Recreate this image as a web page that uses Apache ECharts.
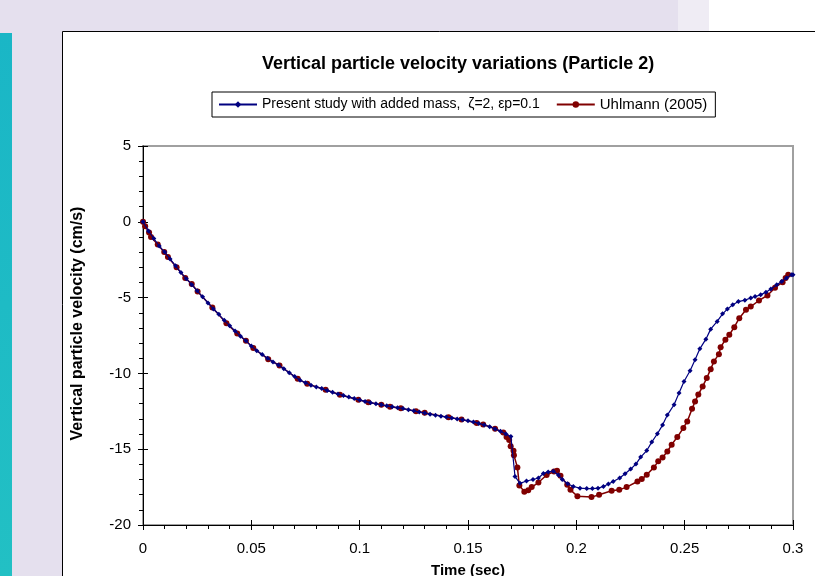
<!DOCTYPE html>
<html>
<head>
<meta charset="utf-8">
<script src="https://cdn.jsdelivr.net/npm/echarts@6/dist/echarts.min.js"></script>
<style>
html,body{margin:0;padding:0;background:#e5e0ee;}
#chart{width:815px;height:576px;}
</style>
</head>
<body>
<div id="chart"></div>
<script>
// ---- data ----
const titleText = 'Vertical particle velocity variations (Particle 2)';
const seriesNames = ['Present study with added mass,  ζ=2, εp=0.1', 'Uhlmann (2005)'];
const xTicks = [0, 0.05, 0.1, 0.15, 0.2, 0.25, 0.3];
const yTicks = [-20, -15, -10, -5, 0, 5];

const presentT = [0,0.0025,0.005,0.0075,0.01,0.0125,0.015,0.0175,0.02,0.0225,0.025,0.0275,0.03,0.0325,0.035,0.0375,0.04,0.0425,0.045,0.0475,0.05,0.0525,0.055,0.0575,0.06,0.0625,0.065,0.0675,0.07,0.0725,0.075,0.0775,0.08,0.0825,0.085,0.0875,0.09,0.0925,0.095,0.0975,0.1,0.1025,0.105,0.1075,0.11,0.1125,0.115,0.1175,0.12,0.1225,0.125,0.1275,0.13,0.1325,0.135,0.1375,0.14,0.1425,0.145,0.1475,0.15,0.1525,0.155,0.1575,0.16,0.1625,0.165,0.1675,0.1698,0.1717,0.174,0.177,0.18,0.1825,0.1848,0.187,0.1894,0.1917,0.1935,0.196,0.1986,0.2017,0.2048,0.2074,0.21,0.2125,0.2148,0.217,0.22,0.2225,0.2251,0.2275,0.2297,0.2325,0.2348,0.2374,0.2398,0.242,0.2451,0.2474,0.2497,0.2525,0.2548,0.257,0.2598,0.262,0.265,0.2675,0.2697,0.2722,0.2748,0.2778,0.2805,0.2825,0.2851,0.2875,0.2898,0.2925,0.2948,0.297,0.2994,0.3];
const presentV = [0,-0.6,-1.1,-1.6,-2.0,-2.45,-2.9,-3.35,-3.75,-4.15,-4.55,-4.95,-5.35,-5.75,-6.1,-6.5,-6.85,-7.2,-7.55,-7.85,-8.2,-8.5,-8.75,-9.0,-9.25,-9.45,-9.7,-9.95,-10.2,-10.45,-10.62,-10.78,-10.9,-11.0,-11.12,-11.25,-11.36,-11.46,-11.56,-11.66,-11.76,-11.85,-11.93,-12.0,-12.07,-12.14,-12.2,-12.26,-12.32,-12.4,-12.47,-12.55,-12.62,-12.7,-12.76,-12.82,-12.88,-12.94,-13.0,-13.06,-13.12,-13.2,-13.3,-13.4,-13.52,-13.66,-13.82,-14.0,-14.16,-16.8,-17.25,-17.1,-17.0,-16.9,-16.6,-16.5,-16.45,-16.7,-17.0,-17.28,-17.46,-17.57,-17.6,-17.6,-17.57,-17.46,-17.3,-17.13,-16.9,-16.62,-16.31,-15.98,-15.52,-15.09,-14.53,-13.98,-13.41,-12.75,-12.07,-11.3,-10.53,-9.83,-9.1,-8.38,-7.74,-7.08,-6.57,-6.07,-5.76,-5.47,-5.26,-5.17,-5.03,-4.93,-4.82,-4.64,-4.44,-4.16,-3.94,-3.71,-3.5,-3.5];

const uhlmannT = [0,0.001,0.0028,0.0037,0.0068,0.0098,0.0115,0.0155,0.0195,0.0225,0.0252,0.032,0.0385,0.0435,0.0475,0.0509,0.0578,0.063,0.0714,0.0758,0.0843,0.0909,0.0994,0.104,0.11,0.114,0.119,0.126,0.13,0.141,0.147,0.154,0.157,0.1625,0.1663,0.1678,0.169,0.1697,0.171,0.1712,0.1728,0.1737,0.176,0.1778,0.1794,0.1825,0.1863,0.1897,0.1911,0.1927,0.1958,0.1973,0.2005,0.207,0.2105,0.2163,0.2198,0.2232,0.2282,0.2302,0.2325,0.2358,0.2378,0.2398,0.242,0.244,0.2466,0.2494,0.2512,0.2534,0.2548,0.2563,0.2583,0.2602,0.262,0.2635,0.2658,0.2666,0.2688,0.2706,0.2729,0.2752,0.2783,0.2805,0.2843,0.2882,0.2917,0.2952,0.2966,0.2978];
const uhlmannV = [0,-0.3,-0.7,-1.0,-1.5,-2.0,-2.33,-3.0,-3.71,-4.1,-4.6,-5.65,-6.7,-7.37,-7.85,-8.33,-9.06,-9.48,-10.36,-10.69,-11.08,-11.41,-11.74,-11.9,-12.07,-12.2,-12.3,-12.5,-12.6,-12.9,-13.04,-13.28,-13.37,-13.65,-13.9,-14.2,-14.4,-14.8,-15.1,-15.4,-16.2,-17.4,-17.8,-17.7,-17.5,-17.2,-16.7,-16.47,-16.42,-16.75,-17.35,-17.68,-18.1,-18.16,-18.0,-17.74,-17.68,-17.5,-17.13,-16.97,-16.69,-16.2,-15.8,-15.55,-15.15,-14.7,-14.2,-13.6,-13.17,-12.34,-11.85,-11.4,-10.86,-10.31,-9.72,-9.21,-8.73,-8.27,-7.78,-7.45,-6.95,-6.36,-5.8,-5.59,-5.19,-4.86,-4.35,-3.98,-3.71,-3.5];

const FONT = '"Liberation Sans", Arial, sans-serif';
const chart = echarts.init(document.getElementById('chart'));

const xBase = {
  type: 'value', min: xTicks[0], max: xTicks[xTicks.length - 1], interval: 0.05,
  splitLine: { show: false }
};
const yBase = {
  type: 'value', min: yTicks[0], max: yTicks[yTicks.length - 1], interval: 5,
  splitLine: { show: false }
};

const option = {
  animation: false,
  backgroundColor: '#e5e0ee',
  graphic: [
    { type: 'rect', z: -10, shape: { x: 678, y: 0, width: 31, height: 31 }, style: { fill: '#efecf4' } },
    { type: 'rect', z: -10, shape: { x: 709, y: 0, width: 106, height: 31 }, style: { fill: '#ffffff' } },
    { type: 'rect', z: -10, shape: { x: 0, y: 33, width: 12, height: 543 },
      style: { fill: new echarts.graphic.LinearGradient(0, 0, 0, 1, [
        { offset: 0, color: '#1ab6c6' }, { offset: 1, color: '#22c0c4' }]) } },
    { type: 'rect', z: -10, shape: { x: 62.5, y: 31.5, width: 760, height: 560 },
      style: { fill: '#ffffff', stroke: '#000000', lineWidth: 1 } }
  ],
  title: {
    text: titleText,
    left: 257, top: 50,
    textStyle: { fontFamily: FONT, fontSize: 18, fontWeight: 'bold', color: '#000' }
  },
  legend: {
    left: 212, top: 92,
    padding: [5, 8, 5, 6],
    itemGap: 16,
    itemWidth: 38, itemHeight: 8,
    borderColor: '#000', borderWidth: 1,
    backgroundColor: '#fff',
    textStyle: { fontFamily: FONT, fontSize: 14, color: '#000' },
    data: [
      { name: seriesNames[0] },
      { name: seriesNames[1], textStyle: { fontSize: 15 } }
    ]
  },
  grid: {
    left: 143, right: 22, top: 146, bottom: 51,
    outerBoundsMode: 'none', containLabel: false,
    show: true, borderColor: '#a0a0a0', borderWidth: 2, backgroundColor: 'transparent'
  },
  xAxis: [
    Object.assign({}, xBase, {
      name: 'Time (sec)', nameLocation: 'middle', nameGap: 38,
      nameTextStyle: { fontFamily: FONT, fontSize: 15, fontWeight: 'bold', color: '#000' },
      axisLine: { show: true, onZero: false, lineStyle: { color: '#000', width: 1 } },
      axisTick: { show: true, inside: false, length: 5, lineStyle: { color: '#000' } },
      minorTick: { show: true, splitNumber: 5, length: 4, lineStyle: { color: '#000' } },
      axisLabel: { fontFamily: FONT, fontSize: 15, color: '#000', margin: 16 }
    }),
    Object.assign({}, xBase, {
      position: 'bottom',
      axisLine: { show: false, onZero: false },
      axisTick: { show: true, inside: true, length: 5, lineStyle: { color: '#000' } },
      minorTick: { show: false },
      axisLabel: { show: false }
    })
  ],
  yAxis: [
    Object.assign({}, yBase, {
      name: 'Vertical particle velocity (cm/s)', nameLocation: 'middle', nameGap: 57,
      nameTextStyle: { fontFamily: FONT, fontSize: 16, fontWeight: 'bold', color: '#000', padding: [0, 0, 0, 24] },
      axisLine: { show: true, onZero: false, lineStyle: { color: '#000', width: 1 } },
      axisTick: { show: true, length: 5, lineStyle: { color: '#000' } },
      minorTick: { show: true, splitNumber: 5, length: 4, lineStyle: { color: '#000' } },
      axisLabel: { fontFamily: FONT, fontSize: 15, color: '#000', margin: 12 }
    }),
    Object.assign({}, yBase, {
      position: 'left',
      axisLine: { show: false, onZero: false },
      axisTick: { show: true, inside: true, length: 5, lineStyle: { color: '#000' } },
      minorTick: { show: false },
      axisLabel: { show: false }
    })
  ],
  series: [
    {
      name: seriesNames[0], type: 'line',
      xAxisIndex: 0, yAxisIndex: 0,
      data: presentT.map((t, i) => [t, presentV[i]]),
      symbol: 'diamond', symbolSize: 5, showSymbol: true,
      lineStyle: { color: '#000080', width: 1.2 },
      itemStyle: { color: '#000080' },
      z: 3
    },
    {
      name: seriesNames[1], type: 'line',
      xAxisIndex: 0, yAxisIndex: 0,
      data: uhlmannT.map((t, i) => [t, uhlmannV[i]]),
      symbol: 'circle', symbolSize: 6, showSymbol: true,
      lineStyle: { color: '#800000', width: 1.5 },
      itemStyle: { color: '#800000' },
      z: 2
    }
  ]
};
chart.setOption(option);
</script>
</body>
</html>
